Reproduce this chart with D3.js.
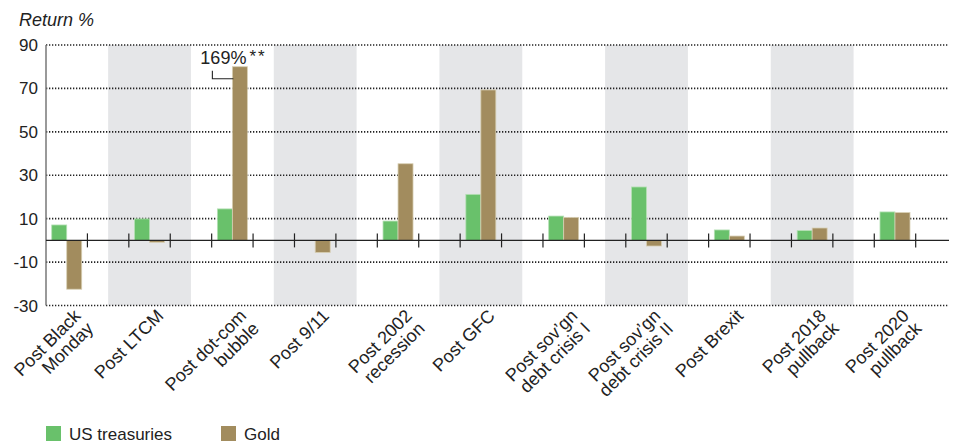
<!DOCTYPE html>
<html>
<head>
<meta charset="utf-8">
<script src="https://cdn.jsdelivr.net/npm/d3@7"></script>
<style>
  body { margin: 0; background: #fff; }
  svg text { font-family: "Liberation Sans", Arial, sans-serif; fill: #222; }
</style>
</head>
<body>
<svg id="chart" width="954" height="443"></svg>
<script>
// data
var categories = ["Post Black\nMonday", "Post LTCM", "Post dot-com\nbubble", "Post 9/11",
  "Post 2002\nrecession", "Post GFC", "Post sov\u2019gn\ndebt crisis I", "Post sov\u2019gn\ndebt crisis II",
  "Post Brexit", "Post 2018\npullback", "Post 2020\npullback"];
var treasuries = [7.1, 9.9, 14.5, 0, 8.9, 21.2, 11.2, 24.6, 4.8, 4.5, 13.1];
var gold = [-22.5, -0.9, 169, -5.6, 35.3, 69.3, 10.6, -2.6, 2.0, 5.7, 12.8];
var seriesNames = ["US treasuries", "Gold"];
var seriesColors = ["#69c16b", "#a28c5e"];
var seriesStroke = ["#b5e0b5", "#d8cfb4"];
var yTicks = [90, 70, 50, 30, 10, -10, -30];
var barCap = 80; // bar drawn clipped, true value in label

var svg = d3.select("#chart");
var axisX = 46, plotRight = 948;

var y = d3.scaleLinear().domain([-30, 90]).range([305.5, 45]);
var x = d3.scaleBand().domain(categories).range([25.3, 936.4]);
var bw = x.bandwidth();
var xs = d3.scaleBand().domain([0, 1]).range([bw / 2 - 15, bw / 2 + 15]);

// gray bands
svg.append("g").selectAll("rect")
  .data(categories.filter(function(d, i) { return i % 2 == 1; }))
  .enter().append("rect")
    .attr("x", function(d) { return x(d); })
    .attr("y", y(90))
    .attr("width", bw)
    .attr("height", y(-30) - y(90))
    .attr("fill", "#e5e6e8");

// dotted grid
svg.append("g").selectAll("line")
  .data(yTicks)
  .enter().append("line")
    .attr("x1", axisX).attr("x2", plotRight)
    .attr("y1", function(d) { return y(d); })
    .attr("y2", function(d) { return y(d); })
    .attr("stroke", "#222")
    .attr("stroke-width", 1.6)
    .attr("stroke-dasharray", "1.3,1.7");

// y labels
svg.append("g").selectAll("text")
  .data(yTicks)
  .enter().append("text")
    .attr("x", 38)
    .attr("y", function(d) { return y(d) + 6; })
    .attr("text-anchor", "end")
    .attr("font-size", 17)
    .text(function(d) { return d; });

svg.append("text")
  .attr("x", 19).attr("y", 26)
  .attr("font-size", 18)
  .attr("font-style", "italic")
  .text("Return %");

// y axis line
svg.append("line")
  .attr("x1", axisX).attr("x2", axisX)
  .attr("y1", y(90)).attr("y2", y(-30))
  .attr("stroke", "#777").attr("stroke-width", 1.5);

// bars
var series = [treasuries, gold];
series.forEach(function(vals, s) {
  svg.append("g").selectAll("rect")
    .data(vals)
    .enter().append("rect")
      .attr("x", function(d, i) { return x(categories[i]) + xs(s); })
      .attr("y", function(d) { return y(Math.max(0, Math.min(d, barCap))); })
      .attr("width", xs.bandwidth())
      .attr("height", function(d) { return Math.abs(y(Math.min(d, barCap)) - y(0)); })
      .attr("fill", seriesColors[s])
      .attr("stroke", seriesStroke[s])
      .attr("stroke-width", 0.8);
});

// zero line and ticks
svg.append("line")
  .attr("x1", axisX).attr("x2", plotRight + 1)
  .attr("y1", y(0)).attr("y2", y(0))
  .attr("stroke", "#222").attr("stroke-width", 1.2);

var tickPos = [];
categories.forEach(function(c) { tickPos.push(x(c) + bw / 4, x(c) + bw * 3 / 4); });
svg.append("g").selectAll("line")
  .data(tickPos.slice(1))
  .enter().append("line")
    .attr("x1", function(d) { return d; })
    .attr("x2", function(d) { return d; })
    .attr("y1", y(0) - 7).attr("y2", y(0) + 7)
    .attr("stroke", "#222").attr("stroke-width", 1.2);

// category labels
var lab = svg.append("g").selectAll("text")
  .data(categories)
  .enter().append("text")
    .attr("transform", function(d) {
      return "translate(" + (x(d) + bw / 2 + 15) + ",317) rotate(-45)";
    })
    .attr("text-anchor", "end")
    .attr("font-size", 18);
lab.each(function(d) {
  var t = d3.select(this);
  d.split("\n").forEach(function(line, k) {
    t.append("tspan").attr("x", 0).attr("dy", k == 0 ? 0 : "1em").text(line);
  });
});

// 169% annotation on the clipped bar
var dc = categories[2];
var bx = x(dc) + xs(1);
svg.append("path")
  .attr("d", "M" + (bx - 20) + "," + (y(barCap) + 4) + "V" + (y(barCap) + 12) + "H" + (bx + 1))
  .attr("fill", "none").attr("stroke", "#222").attr("stroke-width", 1.1);
var ann = svg.append("text")
  .attr("x", bx - 32).attr("y", y(barCap) - 3)
  .attr("font-size", 18);
ann.append("tspan").text(gold[2] + "%");
ann.append("tspan").attr("dx", 3).attr("dy", -2).attr("font-size", 17)
  .attr("letter-spacing", 2).text("**");

// legend
var leg = svg.append("g").selectAll("g")
  .data(seriesNames)
  .enter().append("g")
    .attr("transform", function(d, i) { return "translate(" + (46 + i * 175) + ",426)"; });
leg.append("rect").attr("width", 15).attr("height", 15)
  .attr("fill", function(d, i) { return seriesColors[i]; });
leg.append("text").attr("x", 23).attr("y", 13.5)
  .attr("font-size", 17)
  .text(function(d) { return d; });
</script>
</body>
</html>
